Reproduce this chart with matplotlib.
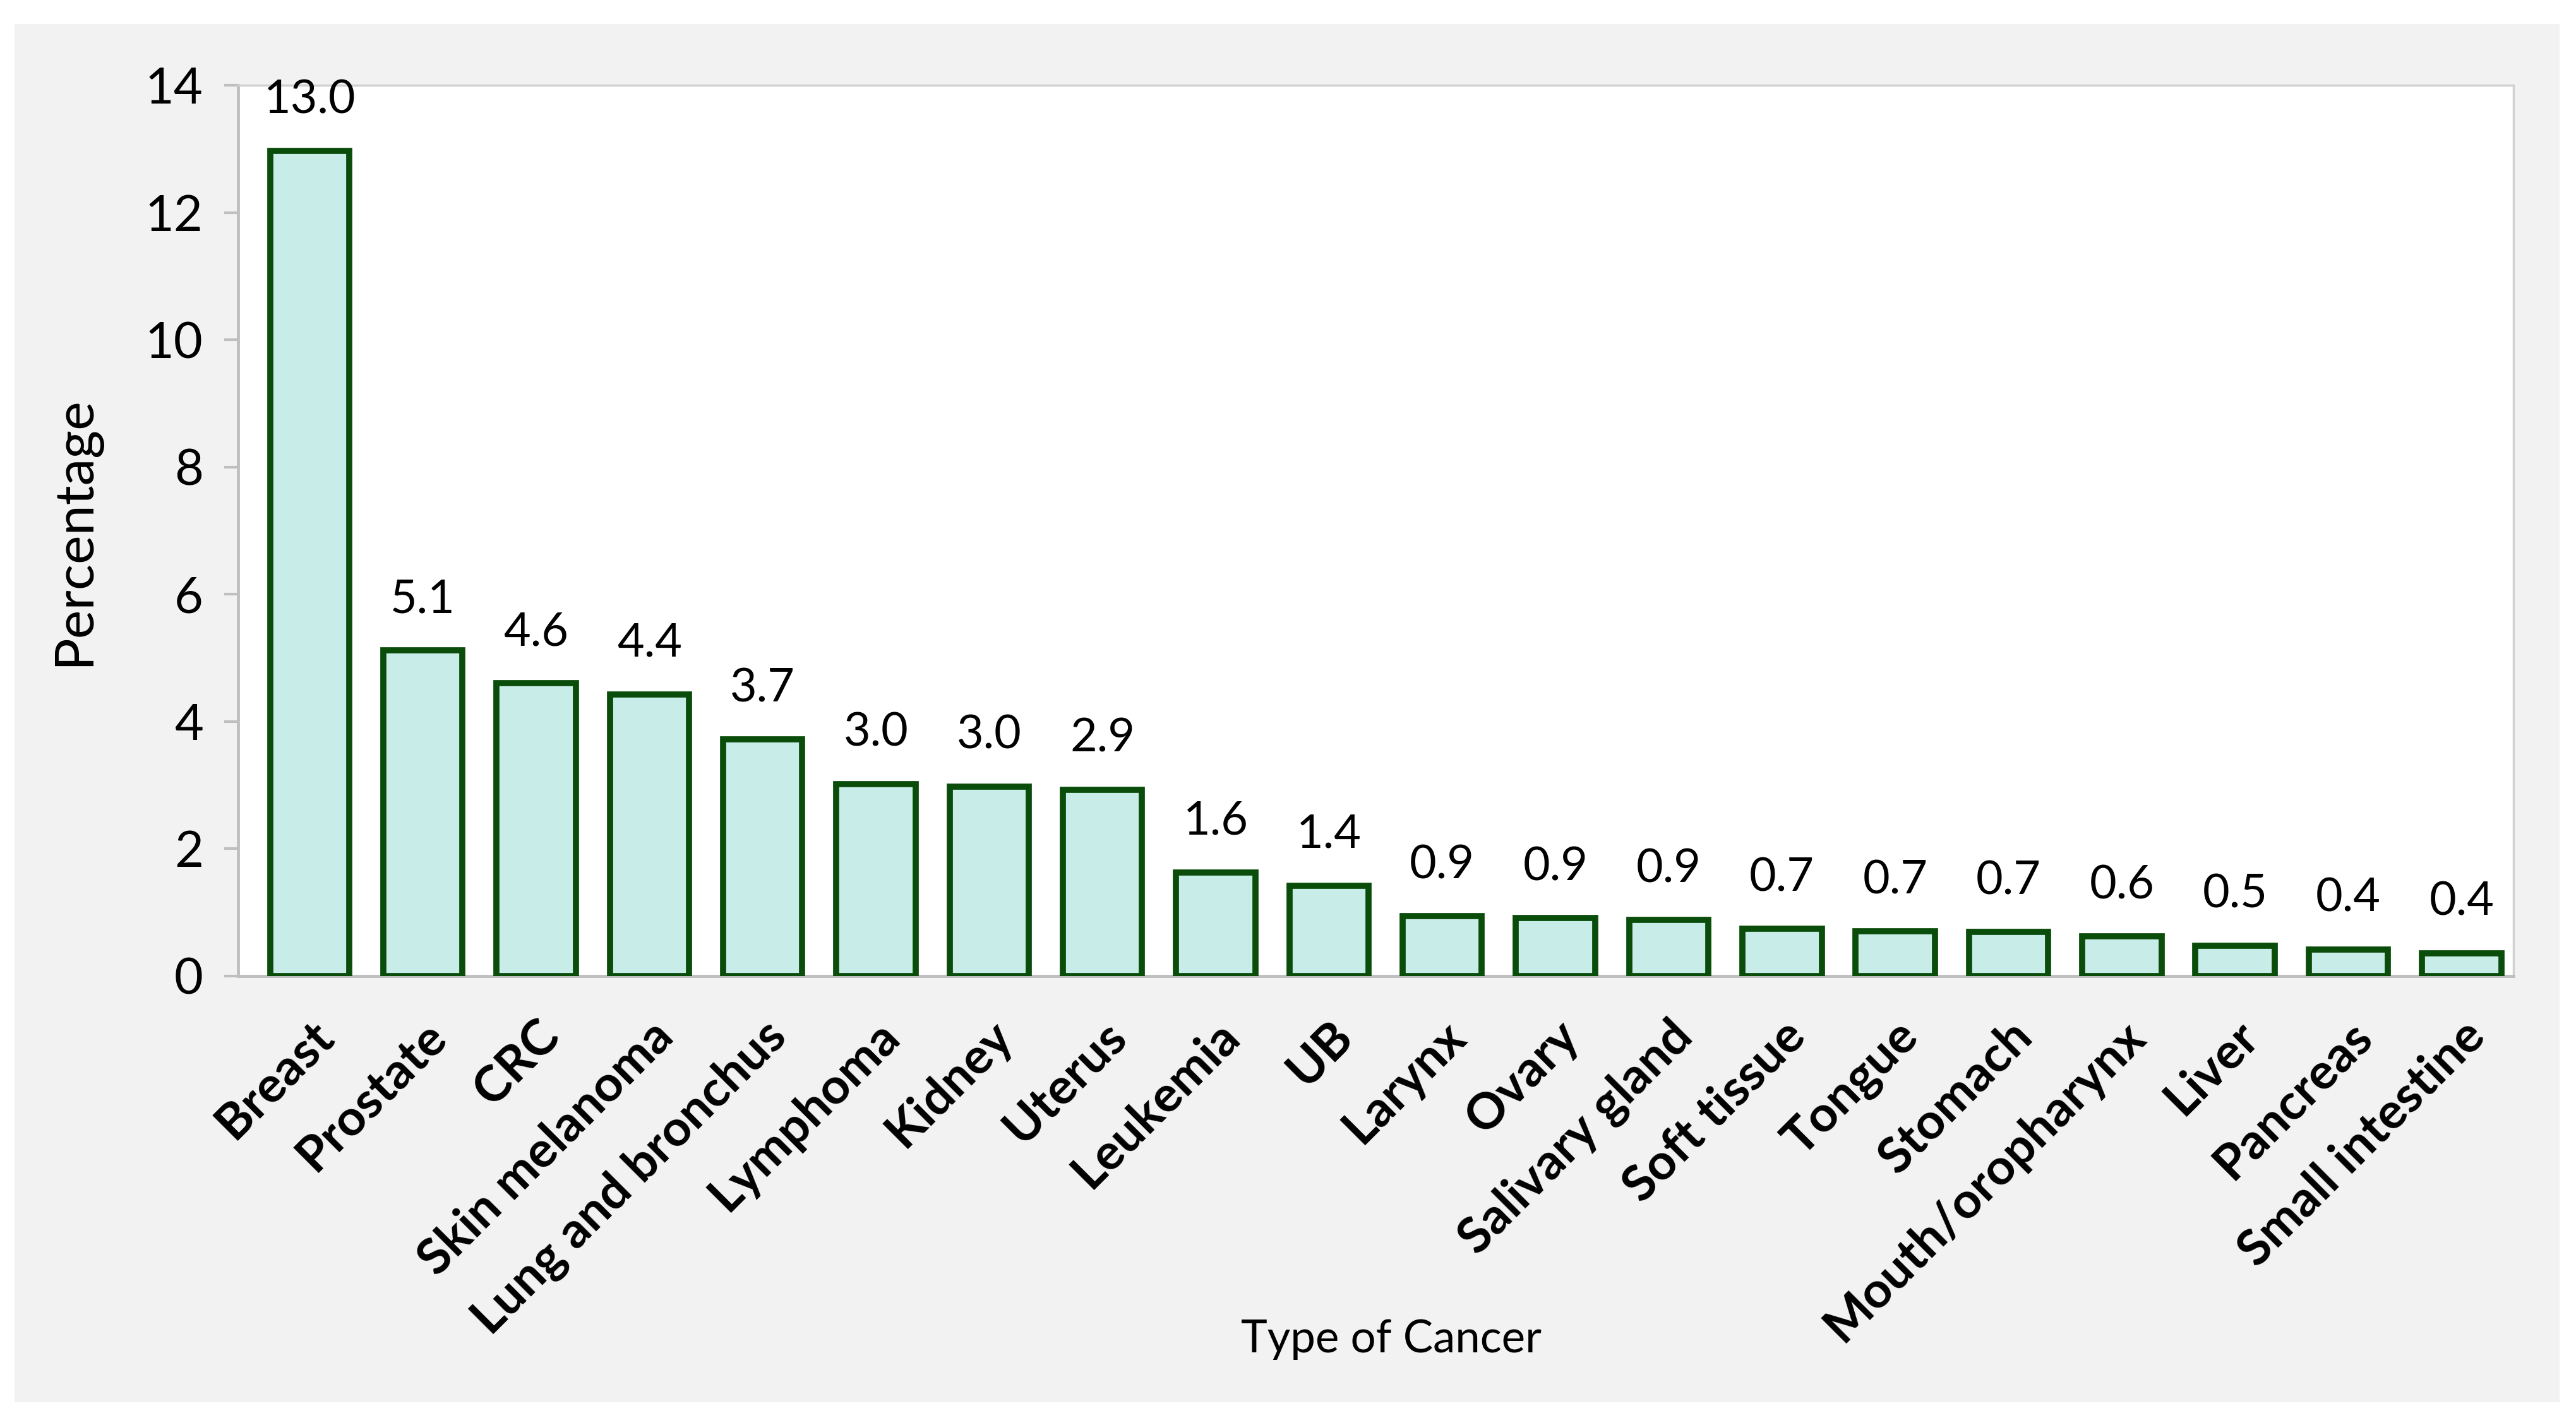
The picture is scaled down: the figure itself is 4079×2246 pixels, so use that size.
import numpy as np
import matplotlib.pyplot as plt
from matplotlib.patches import Rectangle

plt.rcParams['font.family'] = ['Lato', 'DejaVu Sans']

cancer_types = ['Breast', 'Prostate', 'CRC', 'Skin melanoma', 'Lung and bronchus',
                'Lymphoma', 'Kidney', 'Uterus', 'Leukemia', 'UB', 'Larynx', 'Ovary',
                'Salivary gland', 'Soft tissue', 'Tongue', 'Stomach',
                'Mouth/oropharynx', 'Liver', 'Pancreas', 'Small intestine']
percentages = [12.97, 5.12, 4.60, 4.43, 3.72, 3.02, 2.98, 2.93, 1.63, 1.42,
               0.94, 0.91, 0.88, 0.74, 0.70, 0.69, 0.62, 0.48, 0.42, 0.36]
value_labels = ['13.0', '5.1', '4.6', '4.4', '3.7', '3.0', '3.0', '2.9', '1.6', '1.4',
                '0.9', '0.9', '0.9', '0.7', '0.7', '0.7', '0.6', '0.5', '0.4', '0.4']
y_ticks = [0, 2, 4, 6, 8, 10, 12, 14]

fig = plt.figure(figsize=(40.79, 22.46), dpi=100, facecolor='white')
# grey chart area behind everything
fig.patches.append(Rectangle((0.0056, 0.011), 0.988, 0.972, transform=fig.transFigure,
                             facecolor='#F2F2F2', edgecolor='none', zorder=-10))

ax = fig.add_axes([0.0925, 0.3117, 0.8833, 0.628])
ax.set_zorder(5)
ax.set_facecolor('white')

x = np.arange(len(cancer_types))
bars = ax.bar(x, percentages, width=0.7, color='#C8ECE8', edgecolor='#0A4D0A',
              linewidth=7, zorder=3)

for xi, val, lab in zip(x, percentages, value_labels):
    ax.annotate(lab, (xi, val), xytext=(0, 58), textcoords='offset points',
                ha='center', va='center', fontsize=53, color='black')

ax.set_xlim(-0.63, 19.46)
ax.set_ylim(0, 14)
ax.set_yticks(y_ticks)
ax.set_xticks(x)
ax.set_xticklabels(cancer_types, rotation=45, ha='right', rotation_mode='anchor',
                   fontsize=57, fontweight='bold')
ax.tick_params(axis='x', length=0, pad=42)
ax.tick_params(axis='y', length=16, width=3, color='#BFBFBF', labelsize=57, pad=24)

for s in ax.spines.values():
    s.set_color('#D0D0D0')
    s.set_linewidth(2.5)
ax.spines['left'].set_color('#BFBFBF')
ax.spines['bottom'].set_color('#BFBFBF')
ax.spines['left'].set_linewidth(3.5)
ax.spines['bottom'].set_linewidth(3.5)

ax.set_ylabel('Percentage', fontsize=62)
ax.yaxis.set_label_coords(-0.061, 0.5)
fig.text(0.54, 0.0556, 'Type of Cancer', ha='center', va='center', fontsize=51)

fig.savefig('out.png', dpi=100, facecolor='white')
